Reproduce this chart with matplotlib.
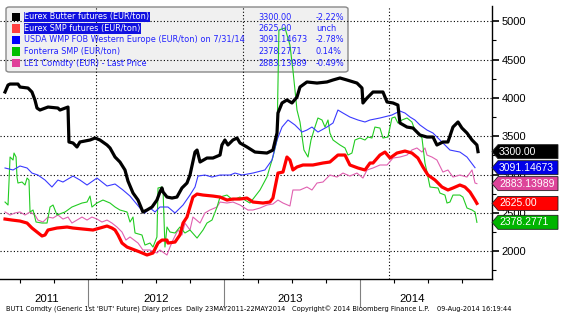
import matplotlib.pyplot as plt
import matplotlib.transforms as mtransforms
from matplotlib.patches import FancyBboxPatch, Polygon, Rectangle

plt.rcParams['font.family'] = ['Liberation Sans', 'DejaVu Sans']

# x = fractional year, y = EUR/ton
butter_x = [2011.390, 2011.412, 2011.427, 2011.485, 2011.500, 2011.559, 2011.588, 2011.610, 2011.625, 2011.647,
            2011.706, 2011.779, 2011.794, 2011.853, 2011.860, 2011.890, 2011.919, 2011.941, 2012.015, 2012.052,
            2012.088, 2012.140, 2012.162, 2012.199, 2012.235, 2012.272, 2012.294, 2012.331, 2012.368, 2012.404,
            2012.434, 2012.471, 2012.507, 2012.529, 2012.544, 2012.552, 2012.581, 2012.618, 2012.654, 2012.691,
            2012.728, 2012.750, 2012.787, 2012.802, 2012.824, 2012.875, 2012.919, 2012.971, 2012.985, 2013.007,
            2013.029, 2013.066, 2013.096, 2013.118, 2013.169, 2013.228, 2013.316, 2013.360, 2013.390, 2013.397,
            2013.427, 2013.463, 2013.500, 2013.537, 2013.559, 2013.610, 2013.684, 2013.757, 2013.802, 2013.853,
            2013.904, 2013.978, 2014.015, 2014.022, 2014.052, 2014.096, 2014.169, 2014.199, 2014.243, 2014.279,
            2014.294, 2014.346, 2014.390, 2014.441, 2014.493, 2014.537, 2014.566, 2014.610, 2014.647, 2014.684,
            2014.721, 2014.750, 2014.787, 2014.824, 2014.860, 2014.868]
butter_y = [4078, 4169, 4182, 4182, 4143, 4130, 4078, 3974, 3869, 3843,
            3882, 3869, 3843, 3882, 3426, 3413, 3361, 3426, 3452, 3478,
            3452, 3387, 3348, 3230, 3165, 3061, 2917, 2761, 2669, 2513,
            2539, 2578, 2669, 2774, 2826, 2774, 2708, 2695, 2708, 2826,
            2891, 2995, 3295, 3321, 3165, 3217, 3217, 3256, 3387, 3452,
            3387, 3452, 3478, 3413, 3361, 3295, 3282, 3321, 3543, 3804,
            3935, 3974, 3935, 4013, 4143, 4209, 4195, 4209, 4235, 4261,
            4235, 4195, 4130, 3935, 4000, 4078, 4078, 3948, 3935, 3908,
            3674, 3621, 3608, 3517, 3491, 3491, 3387, 3426, 3426, 3621,
            3687, 3608, 3543, 3452, 3387, 3300]

smp_x = [2011.390, 2011.441, 2011.500, 2011.552, 2011.588, 2011.625, 2011.662, 2011.684, 2011.706, 2011.772,
         2011.846, 2011.890, 2011.963, 2012.037, 2012.088, 2012.140, 2012.176, 2012.199, 2012.221, 2012.250,
         2012.287, 2012.382, 2012.434, 2012.478, 2012.515, 2012.544, 2012.581, 2012.588, 2012.640, 2012.676,
         2012.699, 2012.728, 2012.750, 2012.772, 2012.802, 2012.846, 2012.919, 2012.971, 2013.022, 2013.066,
         2013.118, 2013.169, 2013.213, 2013.287, 2013.338, 2013.360, 2013.397, 2013.434, 2013.463, 2013.485,
         2013.507, 2013.537, 2013.581, 2013.654, 2013.728, 2013.779, 2013.838, 2013.890, 2013.926, 2013.985,
         2014.037, 2014.074, 2014.096, 2014.147, 2014.184, 2014.221, 2014.272, 2014.331, 2014.382, 2014.426,
         2014.463, 2014.500, 2014.552, 2014.603, 2014.647, 2014.684, 2014.735, 2014.772, 2014.809, 2014.846,
         2014.860]
smp_y = [2421, 2408, 2395, 2369, 2304, 2252, 2200, 2213, 2278, 2304,
         2317, 2304, 2291, 2278, 2304, 2330, 2304, 2278, 2213, 2108,
         2056, 1991, 1952, 1978, 2108, 2147, 2147, 2108, 2121, 2213,
         2369, 2447, 2578, 2708, 2747, 2734, 2721, 2708, 2669, 2682,
         2682, 2695, 2643, 2630, 2643, 2695, 3021, 3034, 3230, 3191,
         3061, 3100, 3126, 3126, 3152, 3165, 3256, 3256, 3126, 3087,
         3061, 3152, 3152, 3256, 3295, 3217, 3282, 3308, 3282, 3217,
         3100, 2995, 2930, 2839, 2800, 2826, 2865, 2839, 2774, 2669,
         2625]

usda_x = [2011.390, 2011.449, 2011.500, 2011.552, 2011.588, 2011.632, 2011.684, 2011.735, 2011.779, 2011.816,
          2011.890, 2011.941, 2011.993, 2012.066, 2012.140, 2012.199, 2012.257, 2012.309, 2012.382, 2012.419,
          2012.456, 2012.493, 2012.529, 2012.588, 2012.640, 2012.699, 2012.750, 2012.787, 2012.809, 2012.860,
          2012.912, 2012.971, 2013.044, 2013.081, 2013.132, 2013.213, 2013.301, 2013.353, 2013.390, 2013.427,
          2013.471, 2013.522, 2013.574, 2013.610, 2013.647, 2013.691, 2013.757, 2013.802, 2013.838, 2013.875,
          2013.926, 2013.985, 2014.037, 2014.074, 2014.147, 2014.235, 2014.294, 2014.331, 2014.368, 2014.404,
          2014.441, 2014.493, 2014.537, 2014.610, 2014.662, 2014.735, 2014.787, 2014.846]
usda_y = [3087, 3061, 3113, 3087, 3021, 2995, 2930, 2839, 2930, 2904,
          2982, 2930, 2865, 2956, 2852, 2878, 2800, 2721, 2565, 2500,
          2565, 2513, 2578, 2578, 2500, 2604, 2734, 2839, 2982, 2995,
          2969, 2995, 2995, 3021, 2995, 3021, 3061, 3191, 3452, 3621,
          3713, 3648, 3556, 3582, 3621, 3556, 3621, 3674, 3843, 3804,
          3752, 3713, 3687, 3713, 3739, 3778, 3830, 3804, 3752, 3713,
          3648, 3582, 3543, 3413, 3321, 3295, 3230, 3091]

fonterra_x = [2011.390, 2011.412, 2011.427, 2011.449, 2011.456, 2011.471, 2011.478, 2011.485, 2011.515, 2011.537,
              2011.552, 2011.566, 2011.574, 2011.596, 2011.618, 2011.662, 2011.699, 2011.721, 2011.743, 2011.772,
              2011.831, 2011.882, 2011.956, 2011.993, 2012.015, 2012.029, 2012.066, 2012.110, 2012.162, 2012.199,
              2012.235, 2012.287, 2012.309, 2012.331, 2012.346, 2012.397, 2012.419, 2012.456, 2012.478, 2012.507,
              2012.515, 2012.544, 2012.552, 2012.566, 2012.581, 2012.603, 2012.640, 2012.676, 2012.713, 2012.750,
              2012.802, 2012.846, 2012.875, 2012.912, 2012.949, 2012.971, 2013.022, 2013.066, 2013.118, 2013.154,
              2013.191, 2013.265, 2013.316, 2013.360, 2013.390, 2013.404, 2013.449, 2013.485, 2013.507, 2013.537,
              2013.559, 2013.588, 2013.618, 2013.640, 2013.669, 2013.691, 2013.721, 2013.743, 2013.765, 2013.779,
              2013.802, 2013.853, 2013.890, 2013.912, 2013.941, 2013.963, 2014.000, 2014.037, 2014.059, 2014.088,
              2014.110, 2014.147, 2014.169, 2014.206, 2014.235, 2014.257, 2014.279, 2014.309, 2014.346, 2014.382,
              2014.404, 2014.456, 2014.478, 2014.493, 2014.515, 2014.574, 2014.588, 2014.625, 2014.640, 2014.662,
              2014.684, 2014.735, 2014.757, 2014.787, 2014.824, 2014.846, 2014.860]
fonterra_y = [2643, 2604, 3230, 3191, 3282, 3230, 2969, 2891, 2904, 2865,
              2956, 2930, 2513, 2539, 2382, 2369, 2369, 2578, 2604, 2474,
              2513, 2578, 2630, 2643, 2721, 2578, 2630, 2669, 2630, 2578,
              2539, 2513, 2382, 2447, 2239, 2213, 2082, 2108, 2056, 2187,
              2826, 2839, 2800, 2056, 2317, 2252, 2239, 2317, 2239, 2278,
              2173, 2278, 2369, 2408, 2578, 2708, 2734, 2669, 2708, 2669,
              2630, 2800, 2969, 3230, 3452, 4887, 4913, 4691, 4365, 3843,
              3687, 3322, 3230, 3452, 3621, 3739, 3713, 3621, 3713, 3543,
              3452, 3387, 3348, 3256, 3282, 3452, 3478, 3452, 3491, 3478,
              3621, 3608, 3478, 3491, 3739, 3752, 3674, 3713, 3739, 3687,
              3582, 3478, 3152, 3034, 2839, 2826, 2760, 2734, 2630, 2643,
              2734, 2734, 2708, 2565, 2539, 2513, 2378]

le1_x = [2011.390, 2011.427, 2011.463, 2011.500, 2011.537, 2011.574, 2011.610, 2011.632, 2011.669, 2011.706,
         2011.743, 2011.779, 2011.816, 2011.853, 2011.882, 2011.919, 2011.956, 2011.993, 2012.029, 2012.066,
         2012.103, 2012.140, 2012.176, 2012.213, 2012.250, 2012.279, 2012.309, 2012.368, 2012.404, 2012.456,
         2012.507, 2012.529, 2012.581, 2012.603, 2012.625, 2012.662, 2012.691, 2012.713, 2012.750, 2012.772,
         2012.824, 2012.860, 2012.897, 2012.949, 2012.971, 2013.022, 2013.066, 2013.118, 2013.176, 2013.213,
         2013.265, 2013.316, 2013.360, 2013.397, 2013.434, 2013.485, 2013.507, 2013.559, 2013.610, 2013.647,
         2013.684, 2013.728, 2013.779, 2013.831, 2013.875, 2013.926, 2013.978, 2014.022, 2014.052, 2014.096,
         2014.147, 2014.199, 2014.243, 2014.294, 2014.346, 2014.382, 2014.419, 2014.456, 2014.478, 2014.493,
         2014.529, 2014.566, 2014.610, 2014.647, 2014.684, 2014.735, 2014.787, 2014.824, 2014.846, 2014.860]
le1_y = [2513, 2474, 2500, 2513, 2474, 2513, 2474, 2408, 2382, 2447,
         2434, 2474, 2421, 2447, 2369, 2408, 2447, 2408, 2447, 2421,
         2382, 2408, 2369, 2317, 2252, 2147, 2187, 2108, 2017, 2017,
         1978, 2017, 1952, 2056, 2147, 2278, 2213, 2369, 2278, 2447,
         2369, 2500, 2539, 2578, 2643, 2630, 2643, 2604, 2539, 2539,
         2565, 2604, 2617, 2669, 2630, 2591, 2800, 2800, 2839, 2800,
         2891, 2904, 2995, 2969, 3021, 2982, 3021, 2956, 3061, 3087,
         3126, 3126, 3217, 3230, 3256, 3322, 3348, 3295, 3348, 3256,
         3230, 3191, 3034, 3061, 2969, 2995, 2969, 3061, 2891, 2883]

legend_names = ['Eurex Butter futures (EUR/ton)', 'Eurex SMP futures (EUR/ton)',
                'USDA WMP FOB Western Europe (EUR/ton) on 7/31/14', 'Fonterra SMP (EUR/ton)',
                'LE1 Comdty (EUR) - Last Price']
legend_values = ['3300.00', '2625.00', '3091.14673', '2378.2771', '2883.13989']
legend_changes = ['-2.22%', 'unch', '-2.78%', '0.14%', '-0.49%']
legend_colors = ['#000000', '#ff4040', '#0000ff', '#00c000', '#e0409a']

tag_values = [3300.00, 3091.14673, 2883.13989, 2625.00, 2378.2771]
tag_labels = ['3300.00', '3091.14673', '2883.13989', '2625.00', '2378.2771']
tag_colors = ['#000000', '#0000e8', '#dd4499', '#ff0000', '#00b400']

year_labels = ['2011', '2012', '2013', '2014']
year_label_x = [2011.699, 2012.500, 2013.485, 2014.382]
year_bounds = [2012, 2013, 2014]
quarter_ticks = [2011.5, 2011.75, 2012.25, 2012.5, 2012.75, 2013.25, 2013.5, 2013.75,
                 2014.25, 2014.5, 2014.75]
vgrid_x = [2012.057, 2013.140, 2014.216]
y_major = [2000, 2500, 3000, 3500, 4000, 4500, 5000]
y_minor = [1750, 2250, 2750, 3250, 3750, 4250, 4750]

W, H = 566, 330
fig = plt.figure(figsize=(W / 100, H / 100), dpi=100)
ax = fig.add_axes([0, 51 / H, 492 / W, 273 / H])
ax.set_xlim(2011.353, 2014.971)
ax.set_ylim(1639, 5200)

for s in ['left', 'top']:
    ax.spines[s].set_visible(False)
for s in ['right', 'bottom']:
    ax.spines[s].set_color('black')
    ax.spines[s].set_linewidth(1)

# grid
for y in y_major:
    ax.axhline(y, color='black', lw=0.8, ls=(0, (1, 2)), zorder=1)
for x in vgrid_x:
    ax.axvline(x, color='black', lw=0.8, ls=(0, (1, 2)), zorder=1)

# series
ax.plot(le1_x, le1_y, color='#e060b0', lw=0.8, zorder=2)
ax.plot(fonterra_x, fonterra_y, color='#22cc22', lw=0.8, zorder=2)
ax.plot(usda_x, usda_y, color='#3a3aff', lw=0.8, zorder=2)
ax.plot(smp_x, smp_y, color='#ff0000', lw=2.3, zorder=3)
ax.plot(butter_x, butter_y, color='#000000', lw=2.3, zorder=4)

# y axis
ax.yaxis.tick_right()
ax.set_yticks(y_major)
ax.set_yticks(y_minor, minor=True)
ax.tick_params(axis='y', which='major', length=5, width=1.2, pad=2, labelsize=8)
ax.tick_params(axis='y', which='minor', length=3, width=0.8)

# x axis
ax.set_xticks(year_bounds)
ax.set_xticklabels([])
ax.set_xticks(quarter_ticks, minor=True)
ax.tick_params(axis='x', which='major', length=20, width=0.8, color='#808080')
ax.tick_params(axis='x', which='minor', length=3, width=0.8, color='black')
for lab, x in zip(year_labels, year_label_x):
    ax.text(x, -20 / 273, lab, transform=ax.get_xaxis_transform(), ha='center', va='center',
            fontsize=8.2)

# legend box
def fx(px):
    return px / W


def fy(py):
    return 1 - py / H


box = FancyBboxPatch((fx(6), fy(72)), fx(342), 65 / H, boxstyle='round,pad=0,rounding_size=0.006',
                     transform=fig.transFigure, fc='#f0f0f0', ec='#888888', lw=1, zorder=0.5,
                     clip_on=False)
ax.add_patch(box)
row_y = [17, 28.5, 40, 51.5, 63]
for i, (name, val, chg, col) in enumerate(zip(legend_names, legend_values, legend_changes, legend_colors)):
    ry = row_y[i]
    ax.add_patch(Rectangle((fx(12), fy(ry + 4)), fx(8), 8 / H, transform=fig.transFigure,
                           fc=col, ec='none', zorder=3, clip_on=False))
    if i < 2:
        ax.text(fx(24.5), fy(ry), name, transform=fig.transFigure, fontsize=5.9, color='white',
                family='DejaVu Sans', va='center', ha='left', zorder=3,
                bbox=dict(fc='#1010e0', ec='none', pad=0.4))
    else:
        ax.text(fx(24.5), fy(ry), name, transform=fig.transFigure, fontsize=5.9, color='#2020ff',
                family='DejaVu Sans', va='center', ha='left', zorder=3)
    ax.text(fx(258), fy(ry), val, transform=fig.transFigure, fontsize=5.9, color='#2020ff',
            family='DejaVu Sans', va='center', ha='left', zorder=3)
    ax.text(fx(316), fy(ry), chg, transform=fig.transFigure, fontsize=5.9, color='#2020ff',
            family='DejaVu Sans', va='center', ha='left', zorder=3)

# last value tags on the right axis
ident = mtransforms.IdentityTransform()
for v, lab, col in zip(tag_values, tag_labels, tag_colors):
    x0, yc = ax.transData.transform((2014.971, v))
    pts = [(x0, yc), (x0 + 6, yc + 7), (x0 + 66, yc + 7), (x0 + 66, yc - 7), (x0 + 6, yc - 7)]
    fig.add_artist(Polygon(pts, closed=True, transform=ident, fc=col, ec='#202020', lw=0.6))
    fig.text((x0 + 7) / W, yc / H, lab, color='white', fontsize=7.5, ha='left', va='center')

# footer
fig.text(fx(6), fy(309), "BUT1 Comdty (Generic 1st 'BUT' Future) Diary prices  Daily 23MAY2011-22MAY2014",
         fontsize=4.8, family='DejaVu Sans', va='center', ha='left')
fig.text(fx(292), fy(309), "Copyright\u00a9 2014 Bloomberg Finance L.P.", fontsize=4.8,
         family='DejaVu Sans', va='center', ha='left')
fig.text(fx(437), fy(309), "09-Aug-2014 16:19:44", fontsize=4.8, family='DejaVu Sans',
         va='center', ha='left')

fig.savefig('out.png', dpi=100)
